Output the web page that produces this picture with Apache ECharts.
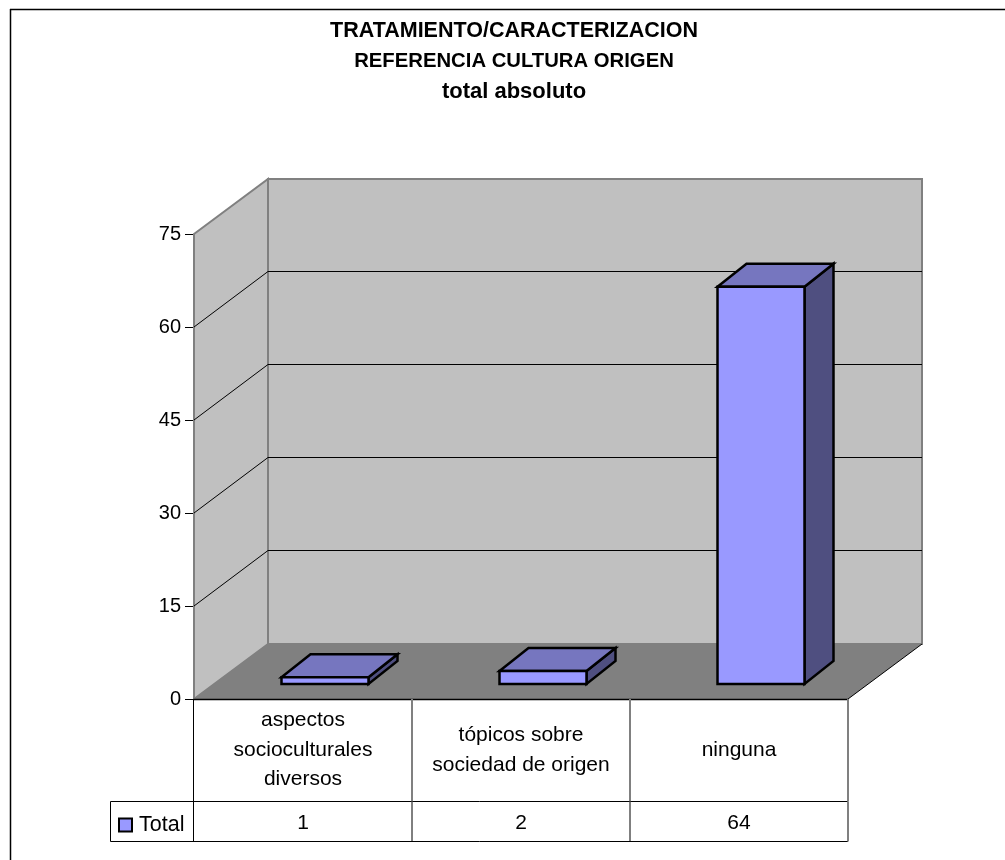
<!DOCTYPE html>
<html>
<head>
<meta charset="utf-8">
<style>html,body{margin:0;padding:0;background:#fff}#chart{width:1005px;height:860px}</style>
<script src="https://cdn.jsdelivr.net/npm/echarts@6/dist/echarts.min.js"></script>
</head>
<body>
<div id="chart"></div>
<script>
// Values shown in the chart
const categories = ['aspectos\nsocioculturales\ndiversos', 'tópicos sobre\nsociedad de origen', 'ninguna'];
const totals = [1, 2, 64];
const valueTicks = [15, 30, 45, 60, 75];
const seriesName = 'Total';
const titleLines = ['TRATAMIENTO/CARACTERIZACION', 'REFERENCIA CULTURA ORIGEN', 'total absoluto'];

// Oblique projection of the chart box
const WALL_DX = 74, WALL_DY = -55;
const BAR_DX = 29, BAR_DY = -23;
const BAR_WIDTH = 87, BAR_SHIFT_X = 22, BAR_INSET_Y = 15, BAR_TOP_LIFT = 15.5;
const TABLE_ROW_1 = 102.5, TABLE_ROW_2 = 142.5, LEGEND_CELL = 83;

const font = '"Liberation Sans", Arial, sans-serif';
const FRONT = '#9999FF', TOP = '#7676BF', SIDE = '#4F4F80';
const WALL = '#C0C0C0', FLOOR = '#808080', EDGE = '#808080';

const chart = echarts.init(document.getElementById('chart'), null, {renderer: 'canvas'});

function poly(points, fill, stroke, width) {
  return {type: 'polygon', shape: {points}, style: {fill, stroke: stroke || 'none', lineWidth: width || 0}};
}
function line(x1, y1, x2, y2, stroke, width) {
  return {type: 'line', shape: {x1, y1, x2, y2}, style: {stroke, lineWidth: width, fill: 'none'}};
}

// Side wall, back wall, floor and their gridlines
function renderWalls(params, api) {
  const cs = params.coordSys;
  const l = cs.x, r = cs.x + cs.width, t = cs.y, b = cs.y + cs.height;
  const kids = [
    poly([[l, t], [l + WALL_DX, t + WALL_DY], [l + WALL_DX, b + WALL_DY], [l, b]], WALL, EDGE, 2),
    poly([[l + WALL_DX, t + WALL_DY], [r + WALL_DX, t + WALL_DY], [r + WALL_DX, b + WALL_DY], [l + WALL_DX, b + WALL_DY]], WALL, EDGE, 2),
    poly([[l, b], [l + WALL_DX, b + WALL_DY], [r + WALL_DX, b + WALL_DY], [r, b]], FLOOR)
  ];
  valueTicks.filter(v => v < 75).forEach(v => {
    const y = api.coord([0, v])[1];
    kids.push(line(l, y, l + WALL_DX, y + WALL_DY - 0.5, '#000', 1));
    kids.push(line(l + WALL_DX, y + WALL_DY - 0.5, r + WALL_DX, y + WALL_DY - 0.5, '#000', 1));
  });
  kids.push(line(r, b, r + WALL_DX, b + WALL_DY, '#000', 1));
  return {type: 'group', children: kids, silent: true};
}

// One oblique box per category
function renderBar(params, api) {
  const cat = api.value(0), val = api.value(1);
  const cx = api.coord([cat, 0])[0];
  const left = cx - BAR_WIDTH / 2 + BAR_SHIFT_X;
  const right = left + BAR_WIDTH;
  const bottom = api.coord([cat, 0])[1] - BAR_INSET_Y;
  const top = api.coord([cat, val])[1] - BAR_TOP_LIFT;
  const st = '#000', w = 2.5;
  return {type: 'group', children: [
    poly([[right, top], [right + BAR_DX, top + BAR_DY], [right + BAR_DX, bottom + BAR_DY], [right, bottom]], SIDE, st, w),
    poly([[left, top], [left + BAR_DX, top + BAR_DY], [right + BAR_DX, top + BAR_DY], [right, top]], TOP, st, w),
    poly([[left, top], [right, top], [right, bottom], [left, bottom]], FRONT, st, w)
  ]};
}

// Data table below the floor
function renderTable(params, api) {
  const cs = params.coordSys;
  const l = cs.x - 0.5, r = cs.x + cs.width, b = cs.y + cs.height;
  const grey = '#808080';
  const kids = [
    line(l, b + 0.5, r, b + 0.5, '#000', 1.5),
    line(l - LEGEND_CELL, b + TABLE_ROW_1, r, b + TABLE_ROW_1, '#000', 1),
    line(l - LEGEND_CELL, b + TABLE_ROW_2, r, b + TABLE_ROW_2, '#000', 1),
    line(l - LEGEND_CELL, b + TABLE_ROW_1, l - LEGEND_CELL, b + TABLE_ROW_2, '#000', 1)
  ];
  for (let i = 0; i <= categories.length; i++) {
    const x = i === 0 ? l : cs.x + i * cs.width / categories.length;
    const isLast = i === categories.length;
    kids.push(line(x, b, x, b + TABLE_ROW_1, i === 0 ? '#000' : grey, i === 0 ? 1 : 2));
    kids.push(line(x, b + TABLE_ROW_1, x, b + TABLE_ROW_2, isLast ? grey : '#000', isLast ? 2 : 1));
  }
  totals.forEach((v, i) => {
    kids.push({type: 'text', style: {
      text: String(v), x: api.coord([i, 0])[0], y: b + 124,
      align: 'center', verticalAlign: 'middle', font: '21px ' + font, fill: '#000'
    }});
  });
  return {type: 'group', children: kids, silent: true};
}

const titleRow = (size) => ({fontFamily: font, fontSize: size, fontWeight: 'bold', color: '#000', lineHeight: 30.5, align: 'center'});

chart.setOption({
  animation: false,
  backgroundColor: '#fff',
  title: {
    text: titleLines.map((s, i) => '{r' + i + '|' + s + '}').join('\n'),
    left: 509, top: 11, textAlign: 'center',
    textStyle: {rich: {r0: titleRow(21.5), r1: titleRow(20.3), r2: titleRow(22)}}
  },
  legend: {
    data: [{name: seriesName, icon: 'rect'}],
    left: 113, top: 809, itemWidth: 13, itemHeight: 13, itemGap: 6, selectedMode: false,
    itemStyle: {color: FRONT, borderColor: '#000', borderWidth: 2},
    textStyle: {fontFamily: font, fontSize: 21.5, color: '#000', padding: [0, 0, 8, 2]}
  },
  grid: {left: 194, right: 157, top: 234, bottom: 161, containLabel: false},
  xAxis: {
    type: 'category', data: categories, boundaryGap: true,
    axisLine: {show: false}, axisTick: {show: false},
    axisLabel: {fontFamily: font, fontSize: 21, color: '#000', lineHeight: 29.5, margin: 51, verticalAlign: 'middle', interval: 0}
  },
  yAxis: {
    type: 'value', min: 0, max: 75, interval: 15,
    axisLine: {show: true, onZero: false, lineStyle: {color: '#000', width: 1}},
    axisTick: {show: true, length: 9, lineStyle: {color: '#000', width: 1}},
    axisLabel: {fontFamily: font, fontSize: 20, color: '#000', margin: 13},
    splitLine: {show: false}
  },
  graphic: [
    {type: 'line', shape: {x1: 10, y1: 9.5, x2: 1005, y2: 9.5}, style: {stroke: '#000', lineWidth: 1.5}, silent: true},
    {type: 'line', shape: {x1: 10.5, y1: 9, x2: 10.5, y2: 860}, style: {stroke: '#000', lineWidth: 1.5}, silent: true}
  ],
  series: [
    {type: 'custom', name: 'walls', z: 1, coordinateSystem: 'cartesian2d', renderItem: renderWalls, data: [[0, 0]], silent: true, clip: false},
    {type: 'custom', name: 'table', z: 2, coordinateSystem: 'cartesian2d', renderItem: renderTable, data: [[0, 0]], silent: true, clip: false},
    {type: 'custom', name: seriesName, z: 3, coordinateSystem: 'cartesian2d', renderItem: renderBar,
     itemStyle: {color: FRONT}, encode: {x: 0, y: 1}, clip: false,
     data: totals.map((v, i) => [i, v])}
  ]
});
</script>
</body>
</html>
